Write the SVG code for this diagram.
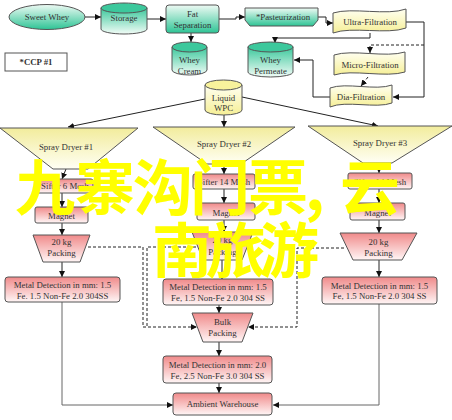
<svg xmlns="http://www.w3.org/2000/svg" width="452" height="420" viewBox="0 0 452 420">
<style>
text{font-family:"Liberation Serif","Times New Roman",serif;font-size:8.8px;fill:#333;text-anchor:middle}
.n{stroke:#555;stroke-width:1}
.g{fill:url(#gG)}
.gc{fill:url(#gGc)}
.gt{fill:#3cc89c}
.y{fill:url(#gY)}
.yd{fill:url(#gYd)}
.p{fill:url(#gP)}
.c{fill:none;stroke:#222;stroke-width:1}
.a{marker-end:url(#ar)}
.d{stroke-dasharray:3,2}
.wm{font-family:"Noto Sans CJK SC",sans-serif;font-weight:bold;font-size:60px;fill:#ffff00;text-anchor:start}
</style>
<defs>
<linearGradient id="gG" x1="0" y1="0" x2="0" y2="1"><stop offset="0" stop-color="#eefaf4"/><stop offset="1" stop-color="#2ec495"/></linearGradient>
<linearGradient id="gGc" x1="0" y1="0" x2="0" y2="1"><stop offset="0" stop-color="#3cc89c"/><stop offset="1" stop-color="#f2fcf7"/></linearGradient>
<linearGradient id="gY" x1="0" y1="0" x2="0" y2="1"><stop offset="0" stop-color="#fffff2"/><stop offset="1" stop-color="#f6ef96"/></linearGradient>
<linearGradient id="gYd" x1="0" y1="0" x2="0" y2="1"><stop offset="0" stop-color="#f2ec9c"/><stop offset="1" stop-color="#fffff4"/></linearGradient>
<linearGradient id="gP" x1="0" y1="0" x2="0" y2="1"><stop offset="0" stop-color="#f08a8a"/><stop offset="1" stop-color="#fff6f6"/></linearGradient>
<marker id="ar" viewBox="0 0 6 6" refX="6" refY="3" markerWidth="6" markerHeight="6" markerUnits="userSpaceOnUse" orient="auto"><path d="M0,0 L6,3 L0,6 z" fill="#111"/></marker>
</defs>

<g id="connectors">
<path class="c a" d="M85,17 L101,17"/>
<path class="c a" d="M147,19 L166,19"/>
<path class="c a" d="M191,33 L191,42"/>
<path class="c a" d="M219,19 L236,19 L236,17 L245,17"/>
<path class="c a" d="M318,17 L326,17 L326,23 L333,23"/>
<path class="c a" d="M406,22 L424,22 L424,97 L393,97"/>
<path class="c d a" d="M424,45 L370,45 L370,53"/>
<path class="c a" d="M370,33 L370,38 L275,38 L275,43"/>
<path class="c d a" d="M368,77 L361,86"/>
<path class="c a" d="M330,97 L313,97 L313,60 L294,60"/>
<path class="c a" d="M205,99 L68,127"/>
<path class="c a" d="M242,97 L378,126"/>
<path class="c a" d="M224,115 L224,127"/>
<path class="c a" d="M66,169 L62,179"/>
<path class="c a" d="M62,193 L62,207"/>
<path class="c a" d="M62,223 L62,235"/>
<path class="c a" d="M62,262 L62,277"/>
<path class="c a" d="M224,164 L224,174"/>
<path class="c a" d="M224,189 L224,203"/>
<path class="c a" d="M224,220 L224,232"/>
<path class="c a" d="M222,260 L222,279"/>
<path class="c a" d="M379,163 L379,173"/>
<path class="c a" d="M379,189 L379,203"/>
<path class="c a" d="M379,220 L379,233"/>
<path class="c a" d="M379,260 L379,277"/>
<path class="c a" d="M219,305 L219,313"/>
<path class="c a" d="M219,342 L219,356"/>
<path class="c a" d="M219,383 L219,393"/>
<path class="c a" d="M62,302 L62,405 L173,405" style="stroke:#666"/>
<path class="c a" d="M379,304 L379,405 L273,405" style="stroke:#666"/>
<path class="c d a" d="M88,247 L143,247 L143,327 L197,327"/>
<path class="c d" d="M196,247 L147,247 L147,327"/>
<path class="c d a" d="M344,248 L297,248 L297,327 L248,327"/>
</g>

<g id="sweet-whey"><ellipse class="n g" cx="47" cy="17" rx="38" ry="12.5"/><text x="47" y="20">Sweet Whey</text></g>
<g id="storage"><path class="n gc" d="M101,8 L101,29 A23,5 0 0 0 147,29 L147,8 Z"/><ellipse class="n gt" cx="124" cy="8" rx="23" ry="5"/><text x="124" y="21">Storage</text></g>
<g id="ccp1"><rect class="n" fill="#fff" x="5" y="53" width="62" height="18"/><text x="36" y="65" font-weight="bold">*CCP #1</text></g>
<g id="fat-separation"><rect class="n g" x="166" y="5" width="53" height="28" rx="3"/><text x="192.5" y="17">Fat</text><text x="192.5" y="28">Separation</text></g>
<g id="whey-cream"><path class="n gc" d="M172,47 L172,70 A17.5,5 0 0 0 207,70 L207,47 Z"/><ellipse class="n gt" cx="189.5" cy="47" rx="17.5" ry="5"/><text x="189.5" y="63">Whey</text><text x="189.5" y="74">Cream</text></g>
<g id="pasteurization"><path class="n g" d="M245,8 L318,8 L318,20 L313,26 L250,26 L245,20 Z"/><text x="283" y="20">*Pasteurization</text></g>
<g id="ultra-filtration"><path class="n y" d="M333,13 C352,7 387,16 406,9 L406,28 C387,35 352,26 333,33 Z"/><text x="370" y="25">Ultra-Filtration</text></g>
<g id="micro-filtration"><path class="n y" d="M334,55 C352,49 386,58 405,52 L405,72 C386,78 352,69 334,75 Z"/><text x="370" y="68">Micro-Filtration</text></g>
<g id="dia-filtration"><path class="n y" d="M330,88 C346,82 376,91 392,85 L392,103 C376,109 346,100 330,107 Z"/><text x="361" y="100">Dia-Filtration</text></g>
<g id="whey-permeate"><path class="n gc" d="M248,47 L248,72 A22.5,5 0 0 0 293,72 L293,47 Z"/><ellipse class="n gt" cx="270.5" cy="47" rx="22.5" ry="5"/><text x="270.5" y="63">Whey</text><text x="270.5" y="74">Permeate</text></g>
<g id="liquid-wpc"><path class="n y" d="M205,85 L205,110 A18.5,5 0 0 0 242,110 L242,85 Z"/><ellipse class="n" fill="#f8f29c" cx="223.5" cy="85" rx="18.5" ry="5"/><text x="223.5" y="101">Liquid</text><text x="223.5" y="111">WPC</text></g>

<g id="spray-dryer-1"><path class="n yd" d="M0,128 L138,128 L88,169 L53,169 Z"/><text x="66" y="150">Spray Dryer #1</text></g>
<g id="spray-dryer-2"><path class="n yd" d="M153,127 L295,127 L241,164 L207,164 Z"/><text x="224" y="147">Spray Dryer #2</text></g>
<g id="spray-dryer-3"><path class="n yd" d="M308,126 L452,126 L392,163 L363,163 Z"/><text x="380" y="146">Spray Dryer #3</text></g>

<g id="sifter-1"><rect class="n p" x="37" y="179" width="56" height="14" rx="2"/><text x="65" y="189">Sifter 6 Mesh</text></g>
<g id="sifter-2"><rect class="n p" x="193" y="174" width="62" height="15" rx="2"/><text x="224" y="185">Sifter 14 Mesh</text></g>
<g id="sifter-3"><rect class="n p" x="348" y="173" width="64" height="16" rx="2"/><text x="380" y="185">Sifter 14 Mesh</text></g>

<g id="magnet-1"><rect class="n p" x="35" y="207" width="53" height="16" rx="2"/><text x="61.5" y="219">Magnet</text></g>
<g id="magnet-2"><rect class="n p" x="197" y="203" width="58" height="17" rx="2"/><text x="226" y="216">Magnet</text></g>
<g id="magnet-3"><rect class="n p" x="350" y="203" width="55" height="17" rx="2"/><text x="377.5" y="216">Magnet</text></g>

<g id="packing-1"><path class="n p" d="M33,235 L90,235 L80,262 L43,262 Z"/><text x="61.5" y="245">20 kg</text><text x="61.5" y="256">Packing</text></g>
<g id="packing-2"><path class="n p" d="M192,232 L253,232 L242,260 L203,260 Z"/><text x="222.5" y="243">20 kg</text><text x="222.5" y="255">Packing</text></g>
<g id="packing-3"><path class="n p" d="M340,233 L417,233 L402,260 L353,260 Z"/><text x="378.5" y="245">20 kg</text><text x="378.5" y="256">Packing</text></g>

<g id="metal-detection-1"><rect class="n p" x="5" y="277" width="115" height="25" rx="3"/><text x="62.5" y="288">Metal Detection in mm: 1.5</text><text x="62.5" y="298.5">Fe. 1.5 Non-Fe 2.0 304SS</text></g>
<g id="metal-detection-2"><rect class="n p" x="163" y="279" width="110" height="26" rx="3"/><text x="218" y="290">Metal Detection in mm: 1.5</text><text x="218" y="300.5">Fe, 1.5 Non-Fe 2.0 304 SS</text></g>
<g id="metal-detection-3"><rect class="n p" x="322" y="277" width="115" height="27" rx="3"/><text x="379.5" y="288.5">Metal Detection in mm: 1.5</text><text x="379.5" y="299">Fe, 1.5 Non-Fe 2.0 304 SS</text></g>

<g id="bulk-packing"><path class="n p" d="M192,313 L253,313 L242,342 L203,342 Z"/><text x="222.5" y="325">Bulk</text><text x="222.5" y="336">Packing</text></g>
<g id="metal-detection-4"><rect class="n p" x="163" y="356" width="109" height="27" rx="3"/><text x="217.5" y="368">Metal Detection in mm: 2.0</text><text x="217.5" y="378.5">Fe, 2.5 Non-Fe 3.0 304 SS</text></g>
<g id="ambient-warehouse"><rect class="n p" x="173" y="393" width="99" height="22" rx="3"/><text x="222.5" y="407">Ambient Warehouse</text></g>

<g id="watermark">
<text class="wm" x="15 75 133 190 248 305 340" y="210">九寨沟门票,云</text>
<text class="wm" x="152 206 259" y="273">南旅游</text>
</g>
</svg>
